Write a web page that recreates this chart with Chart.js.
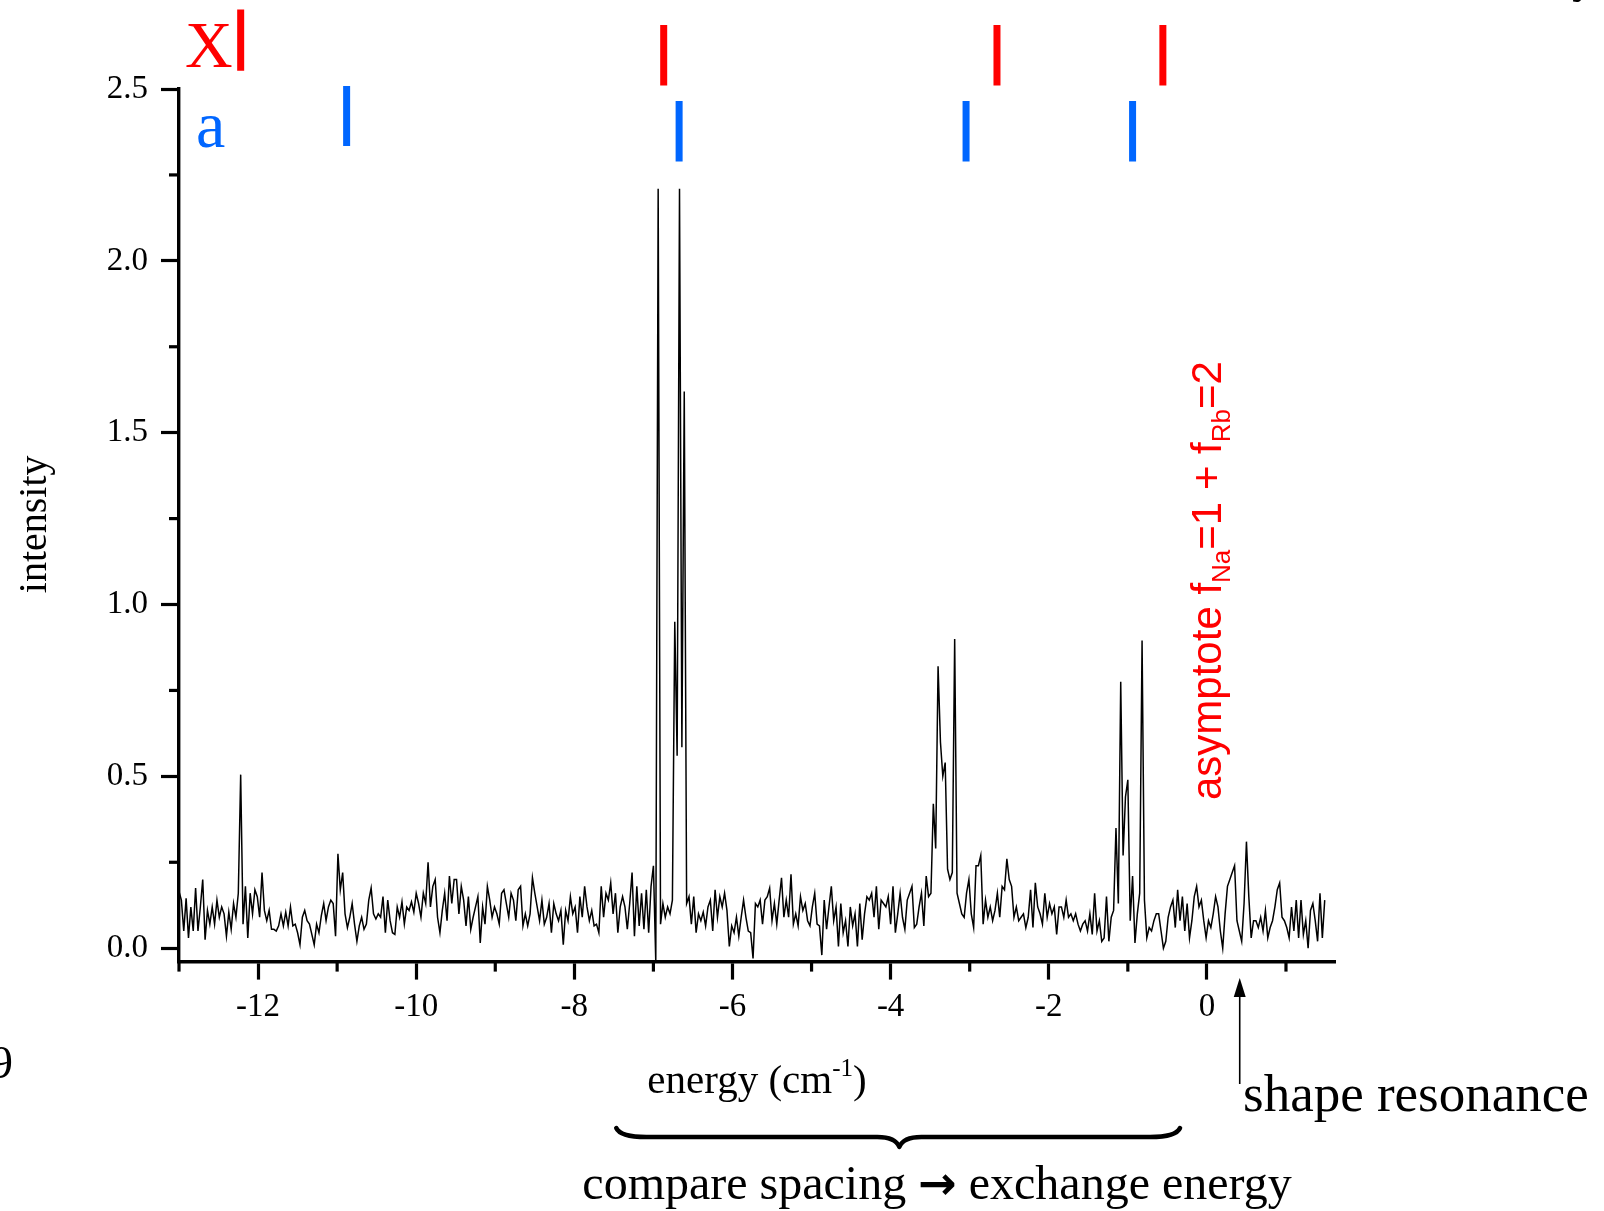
<!DOCTYPE html>
<html><head><meta charset="utf-8">
<script src="https://cdn.jsdelivr.net/npm/chart.js@4.4.1/dist/chart.umd.min.js"></script>
<style>html,body{margin:0;padding:0;background:#fff;overflow:hidden}#wrap{position:relative;width:1604px;height:1211px}</style>
</head><body><div id="wrap"><canvas id="c"></canvas></div>
<script>
// Spectrum sampling (energy axis, cm^-1)
const scanStart = -13.0;
const scanStep = 0.03;
// Intensity, one value per scan step
const intensity = [
0.165,0.14,0.05,0.145,0.03,0.12,0.05,0.175,0.05,0.12,
0.2,0.025,0.11,0.07,0.12,0.07,0.14,0.09,0.12,0.10,
0.035,0.105,0.055,0.13,0.09,0.16,0.505,0.07,0.18,0.03,
0.16,0.10,0.17,0.15,0.09,0.22,0.11,0.08,0.11,0.055,
0.055,0.05,0.065,0.10,0.065,0.105,0.065,0.12,0.065,0.07,
0.045,0.01,0.09,0.11,0.08,0.07,0.04,0.01,0.07,0.045,
0.095,0.13,0.08,0.12,0.14,0.13,0.035,0.275,0.17,0.22,
0.10,0.06,0.09,0.13,0.07,0.02,0.065,0.09,0.055,0.07,
0.14,0.175,0.10,0.085,0.10,0.09,0.15,0.045,0.14,0.08,
0.045,0.04,0.12,0.09,0.135,0.07,0.12,0.11,0.135,0.105,
0.16,0.13,0.09,0.16,0.13,0.25,0.12,0.18,0.2,0.09,
0.045,0.11,0.16,0.08,0.21,0.13,0.2,0.2,0.1,0.18,
0.14,0.065,0.15,0.055,0.09,0.12,0.15,0.015,0.12,0.07,
0.18,0.14,0.09,0.12,0.1,0.07,0.16,0.17,0.13,0.09,
0.16,0.14,0.08,0.17,0.18,0.065,0.1,0.065,0.1,0.205,
0.16,0.12,0.08,0.14,0.07,0.09,0.13,0.045,0.13,0.1,
0.08,0.11,0.01,0.11,0.08,0.15,0.1,0.12,0.045,0.15,
0.09,0.18,0.12,0.08,0.11,0.065,0.07,0.045,0.18,0.09,
0.16,0.14,0.19,0.1,0.16,0.045,0.12,0.15,0.12,0.055,
0.13,0.22,0.035,0.18,0.065,0.16,0.055,0.17,0.045,0.18,
0.24,-0.04,2.21,0.07,0.13,0.09,0.12,0.1,0.14,0.95,
0.56,2.21,0.585,1.62,0.13,0.15,0.07,0.15,0.045,0.1,
0.08,0.105,0.065,0.12,0.14,0.05,0.17,0.09,0.15,0.12,
0.16,0.11,0.005,0.065,0.045,0.09,0.035,0.09,0.14,0.09,
0.05,0.045,-0.03,0.13,0.12,0.14,0.07,0.14,0.15,0.175,
0.08,0.13,0.07,0.14,0.205,0.09,0.14,0.09,0.215,0.07,
0.1,0.065,0.15,0.11,0.13,0.08,0.065,0.12,0.16,0.07,
0.065,-0.02,0.14,0.055,0.12,0.18,0.08,0.12,0.005,0.13,
0.045,0.08,0.005,0.12,0.065,0.1,0.005,0.13,0.025,0.1,
0.15,0.14,0.16,0.09,0.18,0.055,0.14,0.13,0.12,0.15,
0.07,0.18,0.045,0.1,0.16,0.09,0.055,0.14,0.16,0.18,
0.06,0.07,0.12,0.16,0.065,0.21,0.15,0.16,0.42,0.29,
0.82,0.6,0.5,0.54,0.23,0.2,0.22,0.90,0.16,0.13,
0.10,0.09,0.16,0.2,0.10,0.06,0.24,0.24,0.27,0.07,
0.14,0.09,0.12,0.08,0.11,0.16,0.09,0.18,0.17,0.26,
0.2,0.18,0.09,0.12,0.08,0.09,0.1,0.06,0.09,0.17,
0.06,0.19,0.12,0.1,0.07,0.16,0.09,0.13,0.1,0.12,
0.04,0.12,0.12,0.09,0.14,0.09,0.1,0.08,0.1,0.07,
0.05,0.07,0.08,0.05,0.1,0.04,0.16,0.05,0.08,0.02,
0.03,0.15,0.02,0.09,0.11,0.35,0.13,0.775,0.27,0.44,
0.49,0.08,0.21,0.015,0.1,0.16,0.895,0.14,0.03,0.06,
0.05,0.08,0.1,0.1,0.05,0.0,0.02,0.09,0.12,0.14,
0.06,0.17,0.08,0.15,0.05,0.13,0.03,0.08,0.15,0.18,
0.12,0.14,0.08,0.03,0.08,0.06,0.1,0.15,0.12,0.05,
0.0,0.1,0.18,0.2,0.22,0.24,0.08,0.05,0.02,0.13,
0.31,0.15,0.03,0.08,0.08,0.06,0.09,0.05,0.11,0.03,
0.06,0.08,0.12,0.17,0.19,0.09,0.08,0.06,0.03,0.12,
0.05,0.14,0.03,0.14,0.04,0.08,0.0,0.11,0.13,0.08,
0.02,0.16,0.03,0.14
];
// Axis ticks
const xMajorTicks = [-12,-10,-8,-6,-4,-2,0];
const xMinorTicks = [-13,-11,-9,-7,-5,-3,-1,1];
const yMajorTicks = [0,0.5,1,1.5,2,2.5];
const yMinorTicks = [0.25,0.75,1.25,1.75,2.25];
// Level markers (energy, bar bottom, bar top in intensity units)
const levelXEnergy = [-12.22,-6.87,-2.655,-0.557];
const levelXLow = [2.553,2.51,2.51,2.51];
const levelXHigh = [2.731,2.686,2.686,2.686];
const levelAEnergy = [-10.88,-6.675,-3.046,-0.94];
const levelALow = [2.334,2.289,2.289,2.289];
const levelAHigh = [2.509,2.465,2.465,2.465];
// Annotation anchors (energy)
const shapeResonanceEnergy = 0.415;
const braceFrom = -7.47, braceTo = -0.34, braceTip = -3.89;

const spectrum = intensity.map((v,i)=>({x: +(scanStart + i*scanStep).toFixed(3), y: v}));
function bars(en, lo, hi){ const d=[]; en.forEach((e,i)=>{ d.push({x:e,y:lo[i]},{x:e,y:hi[i]},{x:e,y:null}); }); return d; }

const SERIF = '"Liberation Serif", "Times New Roman", serif';
const SANS = '"Liberation Sans", Arial, sans-serif';

function richText(ctx, parts, x, y){
  let cx = x;
  parts.forEach(p=>{ ctx.font = p.font; ctx.fillText(p.t, cx, y + (p.dy||0)); cx += ctx.measureText(p.t).width; });
  return cx - x;
}
function richWidth(ctx, parts){ let w=0; parts.forEach(p=>{ctx.font=p.font; w+=ctx.measureText(p.t).width;}); return w; }

const annot = {
  id: 'annot',
  afterDraw(chart){
    const ctx = chart.ctx, xs = chart.scales.x, ys = chart.scales.y, ca = chart.chartArea;
    ctx.save();
    // minor ticks
    ctx.strokeStyle = '#000'; ctx.lineWidth = 3.2; ctx.lineCap = 'butt';
    xMinorTicks.forEach(v=>{ const p = xs.getPixelForValue(v); ctx.beginPath(); ctx.moveTo(p, ca.bottom); ctx.lineTo(p, ca.bottom + 10); ctx.stroke(); });
    yMinorTicks.forEach(v=>{ const p = ys.getPixelForValue(v); ctx.beginPath(); ctx.moveTo(ca.left, p); ctx.lineTo(ca.left - 10, p); ctx.stroke(); });

    ctx.textBaseline = 'alphabetic';
    // state labels
    ctx.fillStyle = '#ff0000'; ctx.font = '66px ' + SERIF; ctx.textAlign = 'right';
    ctx.fillText('X', xs.getPixelForValue(levelXEnergy[0]) - 8, 67);
    ctx.fillStyle = '#0066ff'; ctx.textAlign = 'left';
    ctx.fillText('a', 196, 147);

    // y title
    ctx.fillStyle = '#000';
    ctx.save(); ctx.translate(46, (ca.top + ca.bottom)/2 - 1); ctx.rotate(-Math.PI/2);
    ctx.font = '40px ' + SERIF; ctx.textAlign = 'center'; ctx.fillText('intensity', 0, 0); ctx.restore();

    // x title
    ctx.textAlign = 'left';
    const xt = [{t:'energy (cm', font:'41px '+SERIF},{t:'-1', font:'25px '+SERIF, dy:-17},{t:')', font:'41px '+SERIF}];
    const xw = richWidth(ctx, xt);
    richText(ctx, xt, (ca.left + ca.right)/2 - xw/2, 1093);

    // brace
    const bl = xs.getPixelForValue(braceFrom), br = xs.getPixelForValue(braceTo), bt = xs.getPixelForValue(braceTip);
    ctx.lineWidth = 4.5; ctx.lineCap = 'round'; ctx.lineJoin = 'round';
    ctx.beginPath();
    ctx.moveTo(bl, 1128);
    ctx.quadraticCurveTo(bl + 4, 1137, bl + 30, 1137);
    ctx.lineTo(bt - 22, 1137);
    ctx.quadraticCurveTo(bt - 4, 1137, bt, 1147);
    ctx.quadraticCurveTo(bt + 4, 1137, bt + 22, 1137);
    ctx.lineTo(br - 30, 1137);
    ctx.quadraticCurveTo(br - 4, 1137, br, 1128);
    ctx.stroke();

    const cmp = [
      {t:'compare spacing ', font:'48px '+SERIF},
      {t:'\u2192', font:'bold 46px "DejaVu Sans"'},
      {t:' exchange energy', font:'48px '+SERIF}
    ];
    const cw = richWidth(ctx, cmp);
    richText(ctx, cmp, 937 - cw/2, 1199);

    // shape resonance arrow
    const ax = xs.getPixelForValue(shapeResonanceEnergy);
    ctx.lineWidth = 1.6; ctx.lineCap = 'butt';
    ctx.beginPath(); ctx.moveTo(ax, 1084); ctx.lineTo(ax, 994); ctx.stroke();
    ctx.beginPath(); ctx.moveTo(ax, 978); ctx.lineTo(ax - 6, 997); ctx.lineTo(ax + 6, 997); ctx.closePath(); ctx.fill();
    ctx.font = '53px ' + SERIF; ctx.textAlign = 'left';
    ctx.fillText('shape resonance', 1243, 1111);

    // stray glyphs at page edges
    ctx.font = '46px ' + SERIF; ctx.fillText('9', -10, 1078);
    ctx.font = '48px ' + SERIF; ctx.fillText('y', 1572, -8);

    // asymptote label
    ctx.fillStyle = '#ff0000';
    ctx.save(); ctx.translate(1221, 800); ctx.rotate(-Math.PI/2);
    richText(ctx, [
      {t:'asymptote f', font:'42px '+SANS},
      {t:'Na', font:'26px '+SANS, dy:9},
      {t:'=1 + f', font:'42px '+SANS},
      {t:'Rb', font:'26px '+SANS, dy:9},
      {t:'=2', font:'42px '+SANS}
    ], 0, 0);
    ctx.restore();
    ctx.restore();
  }
};

const axisCommon = {
  grid: {display: true, drawOnChartArea: false, drawTicks: true, tickLength: 18, tickWidth: 3.2, tickColor: '#000', color: '#000'},
  border: {display: true, color: '#000', width: 3.4}
};

new Chart(document.getElementById('c'), {
  type: 'line',
  data: { datasets: [
    {label: 'spectrum', data: spectrum, borderColor: '#000', borderWidth: 1.5, pointRadius: 0, tension: 0, fill: false},
    {label: 'X levels', data: bars(levelXEnergy, levelXLow, levelXHigh), borderColor: '#ff0000', borderWidth: 7, pointRadius: 0, spanGaps: false, clip: false, borderCapStyle: 'butt'},
    {label: 'a levels', data: bars(levelAEnergy, levelALow, levelAHigh), borderColor: '#0066ff', borderWidth: 7, pointRadius: 0, spanGaps: false, clip: false, borderCapStyle: 'butt'}
  ]},
  options: {
    responsive: true, maintainAspectRatio: false, animation: false,
    layout: {padding: {left: 0, right: 269, top: 89, bottom: 0}},
    plugins: {legend: {display: false}, tooltip: {enabled: false}},
    scales: {
      x: Object.assign({type: 'linear', min: -13, max: 1.62, position: 'bottom',
        afterBuildTicks: s => { s.ticks = xMajorTicks.map(v => ({value: v})); },
        afterFit: s => { s.height = 249.4; },
        ticks: {autoSkip: false, maxRotation: 0, color: '#000', padding: 8, font: {family: 'Liberation Serif', size: 33}, callback: v => String(v)}
      }, axisCommon),
      y: Object.assign({type: 'linear', min: -0.039, max: 2.5, position: 'left',
        afterBuildTicks: s => { s.ticks = yMajorTicks.map(v => ({value: v})); },
        afterFit: s => { s.width = 179; },
        ticks: {autoSkip: false, color: '#000', padding: 13, font: {family: 'Liberation Serif', size: 33}, callback: v => Number(v).toFixed(1)}
      }, axisCommon)
    }
  },
  plugins: [annot]
});
</script></body></html>
